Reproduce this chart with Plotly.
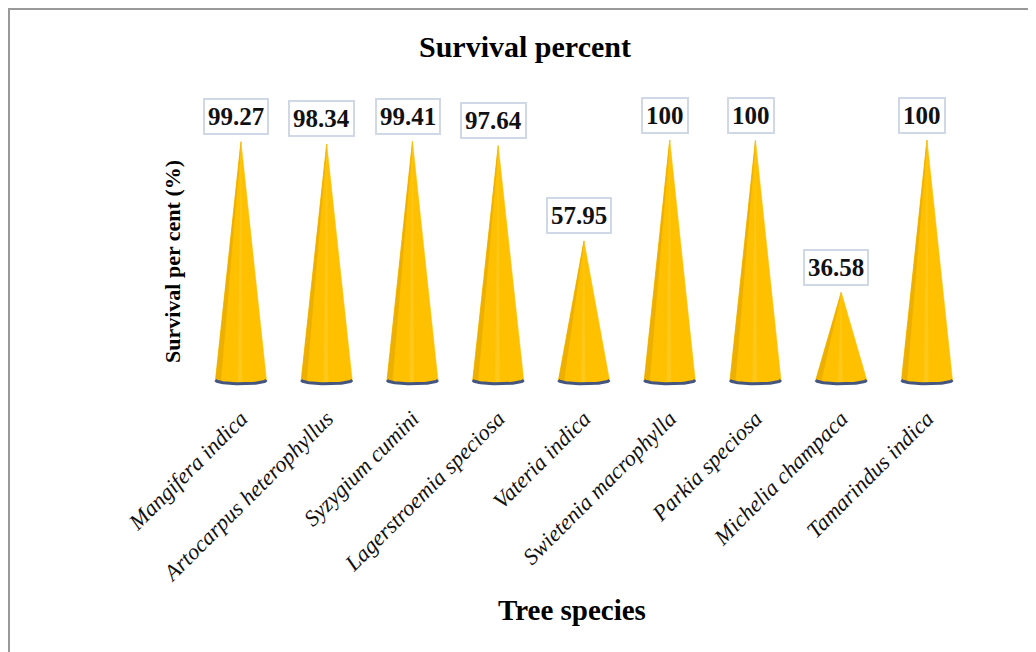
import numpy as np
import plotly.graph_objects as go

species = ["Mangifera indica", "Artocarpus heterophyllus", "Syzygium cumini",
           "Lagerstroemia speciosa", "Vateria indica", "Swietenia macrophylla",
           "Parkia speciosa", "Michelia champaca", "Tamarindus indica"]
survival = [99.27, 98.34, 99.41, 97.64, 57.95, 100, 100, 36.58, 100]
label_text = ["99.27", "98.34", "99.41", "97.64", "57.95", "100", "100", "36.58", "100"]

W, H = 1036, 652
OFF = 8  # page body offset
L, R, T, B = 185 - OFF, 51 + OFF, 80 - OFF, 252 + OFF
PW, PH = W - L - R, H - T - B

def px_x(p):
    return (p - OFF - L) / PW

def px_y(p):
    return (H - B - (p - OFF)) / PH

fig = go.Figure()

half_w = 0.297
ell_h = 1.6
t = np.linspace(np.pi, 2 * np.pi, 40)

for i, v in enumerate(survival):
    ex = i + half_w * np.cos(t)
    ey = ell_h * np.sin(t)
    xs = np.concatenate([[i - half_w, i, i + half_w], ex[::-1]])
    ys = np.concatenate([[0, v, 0], ey[::-1]])
    fig.add_trace(go.Scatter(x=xs, y=ys, mode="lines", fill="toself",
                             fillcolor="#FFC000", line=dict(color="#FFC000", width=0.5),
                             hoverinfo="skip", showlegend=False))
    xl = [i - half_w, i, i - half_w * 0.8, i - half_w]
    yl = [0, v, -ell_h * 0.6, 0]
    fig.add_trace(go.Scatter(x=xl, y=yl, mode="lines", fill="toself",
                             fillcolor="#EDAF00", line=dict(color="#EDAF00", width=0.5),
                             hoverinfo="skip", showlegend=False))
    xh = [i - half_w * 0.12, i, i + half_w * 0.05, i - half_w * 0.12]
    yh = [-ell_h * 0.95, v, -ell_h * 0.95, -ell_h * 0.95]
    fig.add_trace(go.Scatter(x=xh, y=yh, mode="lines", fill="toself",
                             fillcolor="#FFC81A", line=dict(color="#FFC81A", width=0.3),
                             hoverinfo="skip", showlegend=False))
    fig.add_trace(go.Scatter(x=ex, y=ey, mode="lines",
                             line=dict(color="#44557F", width=3),
                             hoverinfo="skip", showlegend=False))

for i, (v, s) in enumerate(zip(survival, label_text)):
    fig.add_annotation(x=i, y=v, xref="x", yref="y", text="<b>%s</b>" % s,
                       showarrow=False, yshift=25, xshift=-5,
                       xanchor="center", yanchor="middle",
                       font=dict(family="Liberation Serif", size=25, color="#111"),
                       bgcolor="white", bordercolor="#D0D8E8", borderwidth=2, borderpad=3)

fig.add_annotation(x=px_x(525), y=px_y(46), xref="paper", yref="paper",
                   text="<b>Survival percent</b>", showarrow=False,
                   xanchor="center", yanchor="middle",
                   font=dict(family="Liberation Serif", size=30, color="#000"))
fig.add_annotation(x=px_x(572), y=px_y(610), xref="paper", yref="paper",
                   text="<b>Tree species</b>", showarrow=False,
                   xanchor="center", yanchor="middle",
                   font=dict(family="Liberation Serif", size=29, color="#000"))
fig.add_annotation(x=px_x(172), y=px_y(262), xref="paper", yref="paper",
                   text="<b>Survival per cent (%)</b>", showarrow=False, textangle=-90,
                   xanchor="center", yanchor="middle",
                   font=dict(family="Liberation Serif", size=22, color="#000"))

fig.add_shape(type="line", xref="paper", yref="paper",
              x0=px_x(9), y0=px_y(9), x1=px_x(1050), y1=px_y(9),
              line=dict(color="#999999", width=2))
fig.add_shape(type="line", xref="paper", yref="paper",
              x0=px_x(9), y0=px_y(8), x1=px_x(9), y1=px_y(670),
              line=dict(color="#999999", width=2))

fig.update_xaxes(range=[-0.653, 8.676], tickmode="array",
                 tickvals=list(range(len(species))), ticktext=species,
                 tickangle=-45, showgrid=False, zeroline=False, showline=False,
                 ticks="", tickfont=dict(family="Liberation Serif", size=22.5,
                                         style="italic", color="#111"))
fig.update_yaxes(range=[-8.33, 125], showticklabels=False, showgrid=False,
                 zeroline=False, showline=False)

fig.update_layout(width=W, height=H, margin=dict(l=L, r=R, t=T, b=B),
                  paper_bgcolor="white", plot_bgcolor="white", showlegend=False)

fig.write_html("out.html")
